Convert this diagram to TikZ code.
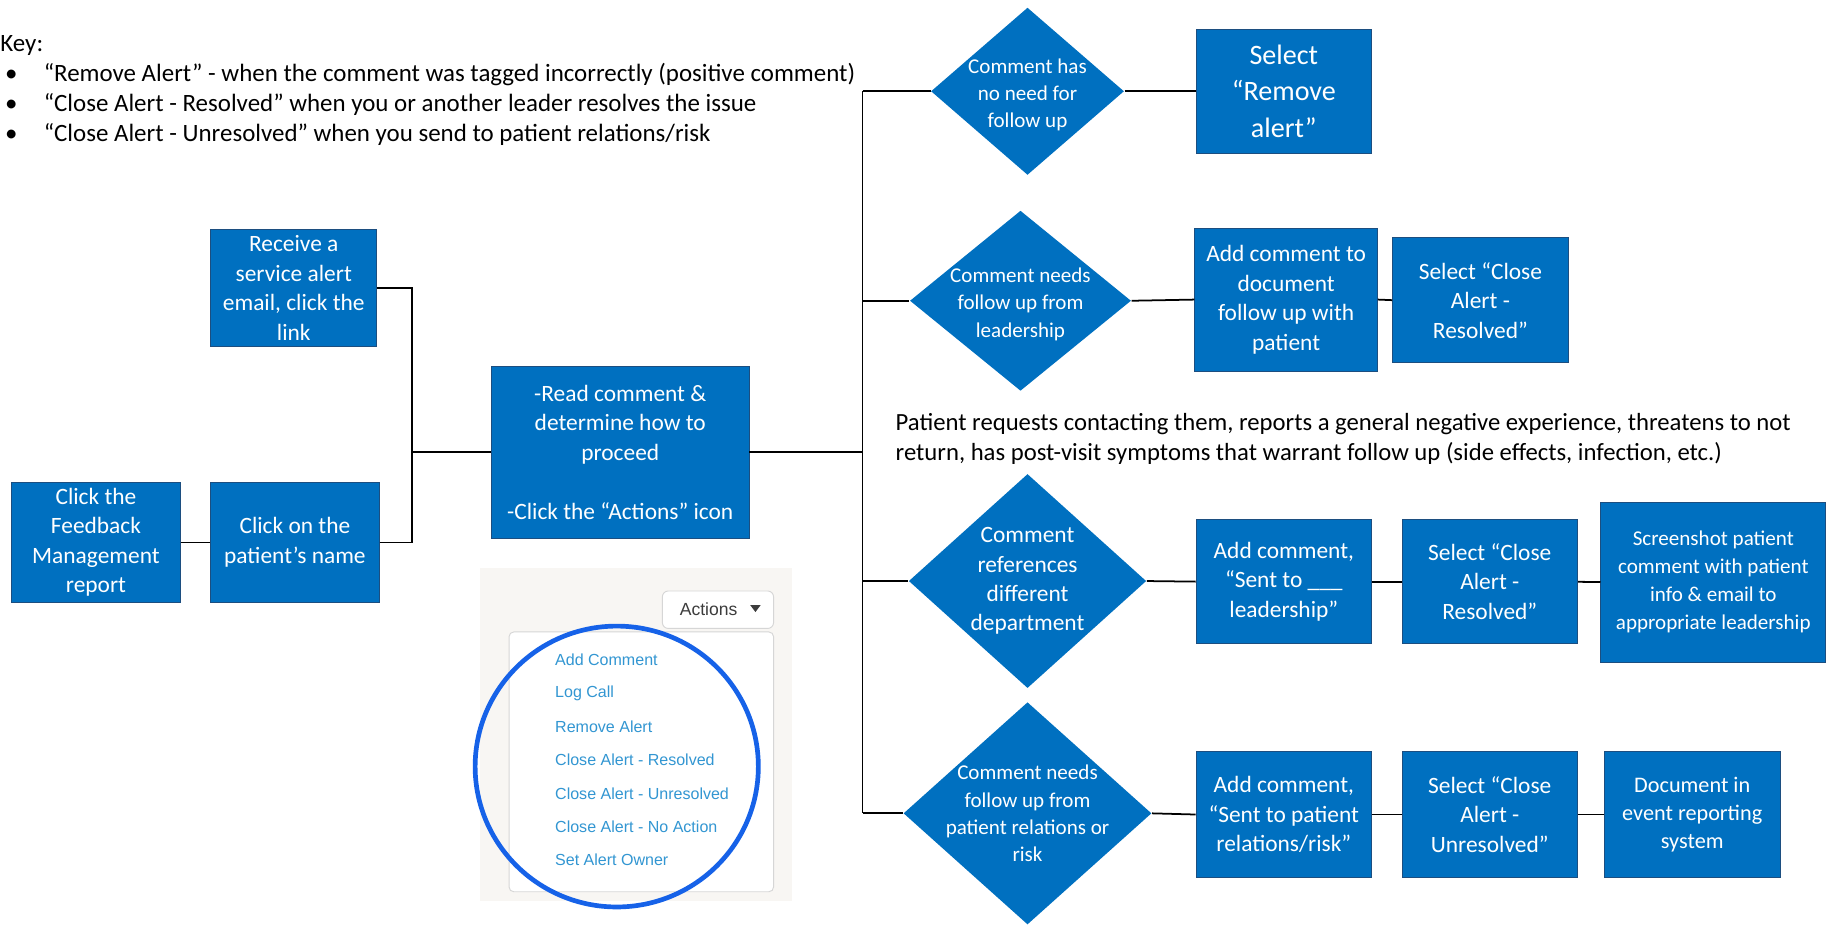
\documentclass[tikz,border=0pt]{standalone}
\usepackage{fontspec}
\setmainfont{Carlito}
\newfontfamily\uifont{Liberation Sans}
\usetikzlibrary{shapes.geometric}

\definecolor{boxblue}{RGB}{0,112,192}
\definecolor{boxedge}{RGB}{28,78,128}
\definecolor{linkblue}{RGB}{50,150,210}
\definecolor{ringblue}{RGB}{22,98,232}
\definecolor{shotgrey}{RGB}{248,246,243}
\definecolor{menuedge}{RGB}{214,214,214}
\definecolor{btntext}{RGB}{60,60,60}

\tikzset{
  stepbox/.style={rectangle, fill=boxblue, draw=boxedge, line width=0.4pt, text=white, align=center, inner sep=0pt, font=\fontsize{10}{12.6}\selectfont},
  choice/.style={diamond, fill=boxblue, inner sep=0pt},
  choicetext/.style={text=white, align=center, inner sep=0pt, font=\fontsize{9}{11.6}\selectfont},
  link/.style={line width=0.75pt},
  menuitem/.style={anchor=west, text=linkblue, inner sep=0pt, font=\uifont\fontsize{6.85}{7.5}\selectfont},
}

\begin{document}
\begin{tikzpicture}[x=0.5pt, y=-0.5pt]
\useasboundingbox (0,0) rectangle (1568,790);

% key
\node[anchor=west, align=left, inner sep=0pt, font=\fontsize{10.65}{12.75}\selectfont] (key) at (0,77.5) {Key:\\
\hspace*{2pt}\makebox[16.5pt][l]{\textbullet}“Remove Alert” - when the comment was tagged incorrectly (positive comment)\\
\hspace*{2pt}\makebox[16.5pt][l]{\textbullet}“Close Alert - Resolved” when you or another leader resolves the issue\\
\hspace*{2pt}\makebox[16.5pt][l]{\textbullet}“Close Alert - Unresolved” when you send to patient relations/risk};

% start of the flow
\node[stepbox, minimum width=71pt, minimum height=50pt] (recv) at (251,246) {Receive a\\service alert\\email, click the\\link};
\node[stepbox, minimum width=72pt, minimum height=51.5pt] (report) at (82,463.5) {Click the\\Feedback\\Management\\report};
\node[stepbox, minimum width=72pt, minimum height=51.5pt] (pname) at (252,463.5) {Click on the\\patient’s name};
\node[stepbox, minimum width=110pt, minimum height=73.5pt] (readc) at (530,386.5) {-Read comment \&\\determine how to\\proceed\\[12.6pt]-Click the “Actions” icon};

\coordinate (join) at (352,386.5);
\draw[link] (report) -- (pname);
\draw[link] (recv.east) -| (join);
\draw[link] (pname.east) -| (join);
\draw[link] (join) -- (readc.west);

% decisions
\node[choice, minimum width=82.5pt, minimum height=71.5pt, label={[choicetext, name=d1text, yshift=-1.5pt]center:Comment has\\no need for\\follow up}] (d1) at (878,78) {};
\node[choice, minimum width=94.5pt, minimum height=77pt, label={[choicetext, name=d2text, yshift=-1.5pt]center:Comment needs\\follow up from\\leadership}] (d2) at (872,257) {};
\node[choice, minimum width=101.5pt, minimum height=91.5pt, label={[choicetext, name=d3text, font=\fontsize{10}{12.6}\selectfont]center:Comment\\references\\different\\department}] (d3) at (878,496.5) {};
\node[choice, minimum width=106pt, minimum height=95pt, label={[choicetext, name=d4text]center:Comment needs\\follow up from\\patient relations or\\risk}] (d4) at (878,695) {};

\coordinate (bus0) at (737,386.5);
\coordinate (bus1) at (737,78);
\coordinate (bus2) at (737,257);
\coordinate (bus3) at (737,496.5);
\coordinate (bus4) at (737,695);
\draw[link] (readc.east) -- (bus0);
\draw[link] (bus1) -- (bus4);
\draw[link] (bus1) -- (d1.west);
\draw[link] (bus2) -- (d2.west);
\draw[link] (bus3) -- (d3.west);
\draw[link] (bus4) -- (d4.west);

\node[anchor=west, align=left, inner sep=0pt, font=\fontsize{10.55}{12.9}\selectfont] (note) at (765,375) {Patient requests contacting them, reports a general negative experience, threatens to not\\return, has post-visit symptoms that warrant follow up (side effects, infection, etc.)};

% row 1
\node[stepbox, minimum width=75pt, minimum height=53pt, font=\fontsize{12}{15.5}\selectfont] (remove) at (1097,78) {Select\\“Remove\\alert”};
\draw[link] (d1.east) -- (remove.west);

% row 2
\node[stepbox, minimum width=78pt, minimum height=61pt] (doc) at (1099,256) {Add comment to\\document\\follow up with\\patient};
\node[stepbox, minimum width=75pt, minimum height=53.5pt] (resolvedA) at (1265,256.5) {Select “Close\\Alert -\\Resolved”};
\draw[link] (d2.east) -- (doc.west);
\draw[link] (doc.east) -- (resolvedA.west);

% row 3
\node[stepbox, minimum width=75pt, minimum height=53pt] (sent) at (1097,497) {Add comment,\\“Sent to \_\_\_\\leadership”};
\node[stepbox, minimum width=75pt, minimum height=53pt] (resolvedB) at (1273,497) {Select “Close\\Alert -\\Resolved”};
\node[stepbox, minimum width=96pt, minimum height=68.5pt, font=\fontsize{9}{12}\selectfont] (shot) at (1464,497.5) {Screenshot patient\\comment with patient\\info \& email to\\appropriate leadership};
\draw[link] (d3.east) -- (sent.west);
\draw[link] (sent) -- (resolvedB);
\draw[link] (resolvedB) -- (shot);

% row 4
\node[stepbox, minimum width=75pt, minimum height=54pt] (sentpr) at (1097,696) {Add comment,\\“Sent to patient\\relations/risk”};
\node[stepbox, minimum width=75pt, minimum height=54pt] (unresolved) at (1273,696) {Select “Close\\Alert -\\Unresolved”};
\node[stepbox, minimum width=75pt, minimum height=54pt, font=\fontsize{9.5}{12}\selectfont] (event) at (1446,696) {Document in\\event reporting\\system};
\draw[link] (d4.east) -- (sentpr.west);
\draw[link] (sentpr) -- (unresolved);
\draw[link] (unresolved) -- (event);

% actions menu screenshot
\fill[shotgrey] (410,485) rectangle (677,770);
\node[draw=menuedge, fill=white, rounded corners=2pt, minimum width=113pt, minimum height=111pt, inner sep=0pt] (menu) at (548,651) {};
\node[draw=menuedge, fill=white, rounded corners=2.5pt, minimum width=47.5pt, minimum height=16pt, inner sep=0pt, text=btntext, font=\uifont\fontsize{7.5}{9}\selectfont] (actbtn) at (613.5,521) {Actions\hspace*{8pt}};
\fill[btntext] (641,517) -- (650,517) -- (645.5,523) -- cycle;
\node[menuitem] (item1) at (474,564) {Add Comment};
\node[menuitem] (item2) at (474,592.5) {Log Call};
\node[menuitem] (item3) at (474,621) {Remove Alert};
\node[menuitem] (item4) at (474,649.5) {Close Alert - Resolved};
\node[menuitem] (item5) at (474,678) {Close Alert - Unresolved};
\node[menuitem] (item6) at (474,706.5) {Close Alert - No Action};
\node[menuitem] (item7) at (474,735) {Set Alert Owner};
\draw[ringblue, line width=2pt] (527,655) ellipse [x radius=60.5pt, y radius=60pt];
\end{tikzpicture}
\end{document}
